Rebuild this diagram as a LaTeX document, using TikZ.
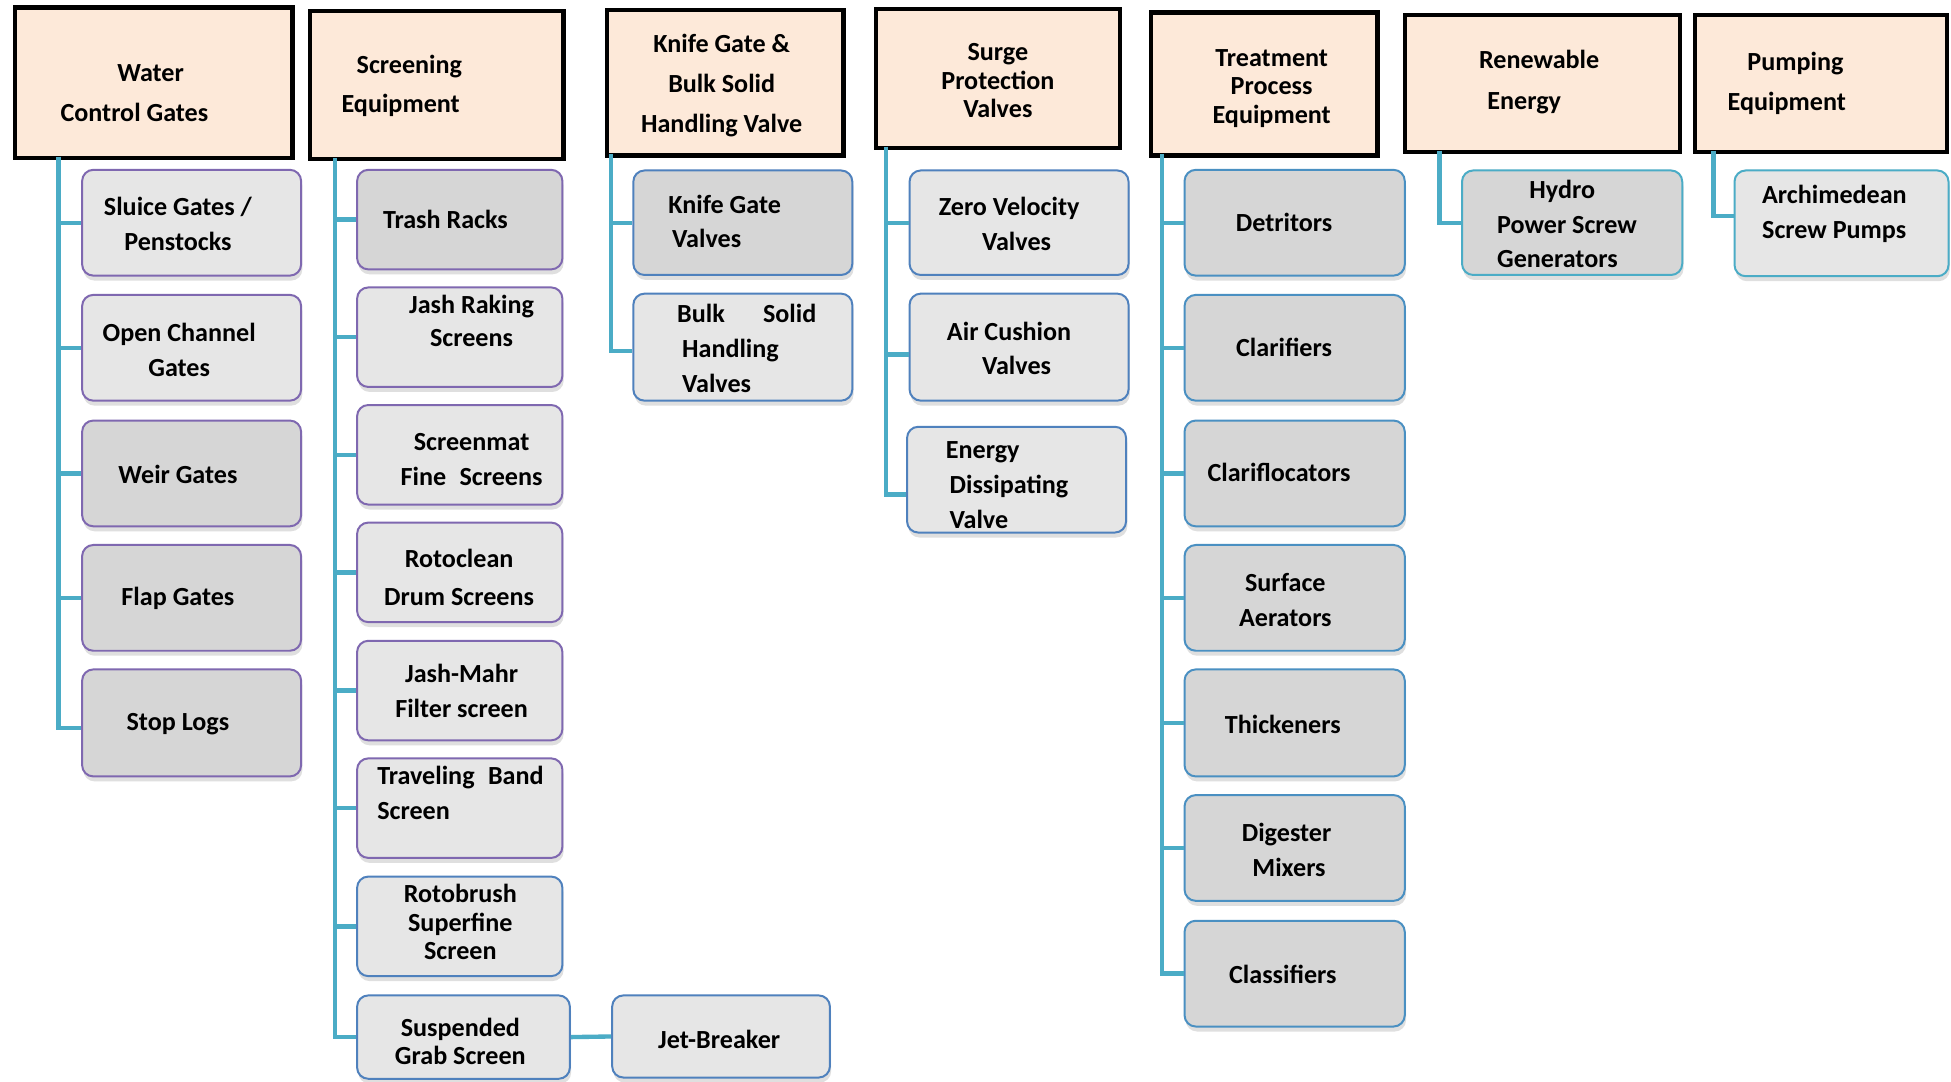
\documentclass[tikz,border=0pt]{standalone}
\usepackage{fontspec}
\setmainfont{Carlito}
\usetikzlibrary{shadows}
\definecolor{peach}{HTML}{FDE9D9}
\definecolor{conncol}{HTML}{4BACC6}
\definecolor{purp}{HTML}{7F68B0}
\definecolor{blu}{HTML}{4F81BD}
\definecolor{blt}{HTML}{4A90C2}
\definecolor{tealb}{HTML}{4BACC6}
\definecolor{lightg}{HTML}{E6E6E6}
\definecolor{darkg}{HTML}{D6D6D6}
\begin{document}
\begin{tikzpicture}[x=1pt,y=-1pt,
  hdr/.style={draw=black, line width=3.5pt, fill=peach, inner sep=0pt},
  kid/.style={draw=#1, line width=1.6pt, rounded corners=9pt, inner sep=0pt,
    drop shadow={shadow xshift=1pt, shadow yshift=-4pt, opacity=0.25}},
  lt/.style={fill=lightg},
  dk/.style={fill=darkg},
  sz/.style 2 args={minimum width=#1pt, minimum height=#2pt},
  txt/.style={font=\fontsize{21}{#1}\selectfont\bfseries, align=center, inner sep=0pt, yshift=-2pt},
  txt/.default=28,
  conn/.style={draw=conncol, line width=3.5pt}]
\useasboundingbox (0,0) rectangle (1568,868.8);
\fill[white] (0,0) rectangle (1568,868.8);

% headers
\node[hdr, sz={223}{121}] (h1) at (123.5,66.5) {};
\node[hdr, sz={204}{119}] (h2) at (351,68.5) {};
\node[hdr, sz={190}{117}] (h3) at (583,66.5) {};
\node[hdr, sz={196}{112}] (h4) at (802,63) {};
\node[hdr, sz={182}{115}] (h5) at (1016,67.5) {};
\node[hdr, sz={221}{110}] (h6) at (1239.5,67) {};
\node[hdr, sz={203}{110}] (h7) at (1463.5,67) {};

\node[txt=32] (h1t) at (108,73) {\hspace*{26pt}Water\\Control Gates};
\node[txt=32] (h2t) at (322,67) {\hspace*{14pt}Screening\\Equipment};
\node[txt=32] (h3t) at (580,67) {Knife Gate \&\\Bulk Solid\\Handling Valve};
\node[txt=23] (h4t) at (802,63) {Surge\\Protection\\Valves};
\node[txt=23] (h5t) at (1022,69) {Treatment\\Process\\Equipment};
\node[txt=33] (h6t) at (1225,64) {\hspace*{24pt}Renewable\\Energy};
\node[txt=32] (h7t) at (1436,65) {\hspace*{14pt}Pumping\\Equipment};

% column 1
\node[kid=purp, lt, sz={176}{85}] (c11) at (154,179) {};
\node[kid=purp, lt, sz={176}{85}] (c12) at (154,279.5) {};
\node[kid=purp, dk, sz={176}{85}] (c13) at (154,380.5) {};
\node[kid=purp, dk, sz={176}{85}] (c14) at (154,480.5) {};
\node[kid=purp, dk, sz={176}{86}] (c15) at (154,581) {};
\node[txt] (c11t) at (143,178) {Sluice Gates /\\Penstocks};
\node[txt] (c12t) at (144,279) {Open Channel\\Gates};
\node[txt] (c13t) at (143,379) {Weir Gates};
\node[txt] (c14t) at (143,479) {Flap Gates};
\node[txt] (c15t) at (143,580) {Stop Logs};

% column 2
\node[kid=purp, dk, sz={165}{80}] (c21) at (369.5,176.5) {};
\node[kid=purp, lt, sz={165}{80}] (c22) at (369.5,271) {};
\node[kid=purp, lt, sz={165}{80}] (c23) at (369.5,365.5) {};
\node[kid=purp, lt, sz={165}{80}] (c24) at (369.5,460) {};
\node[kid=purp, lt, sz={165}{80}] (c25) at (369.5,555) {};
\node[kid=purp, lt, sz={165}{80}] (c26) at (369.5,649.5) {};
\node[kid=blu, lt, sz={165}{80}] (c27) at (369.5,744.5) {};
\node[kid=blu, lt, sz={171}{67}] (c28) at (372.5,833.5) {};
\node[kid=blu, lt, sz={175}{66}] (jet) at (579.5,833) {};
\node[txt] (c21t) at (358,174) {Trash Racks};
\node[txt=27] (c22t) at (379,256) {Jash Raking\\Screens};
\node[txt] (c23t) at (379,367) {Screenmat\\Fine\hspace{6pt} Screens};
\node[txt=30] (c24t) at (369,462) {Rotoclean\\Drum Screens};
\node[txt] (c25t) at (371,553) {Jash-Mahr\\Filter screen};
\node[txt, align=left, anchor=west] (c26t) at (303,635) {Traveling\hspace{6pt} Band\\Screen};
\node[txt=23] (c27t) at (370,739) {Rotobrush\\Superfine\\Screen};
\node[txt=23] (c28t) at (370,835) {Suspended\\Grab Screen};
\node[txt] (jett) at (578,833) {Jet-Breaker};

% column 3
\node[kid=blu, dk, sz={176}{84}] (c31) at (597,179) {};
\node[kid=blu, lt, sz={176}{86}] (c32) at (597,279) {};
\node[txt, align=left, anchor=west] (c31t) at (537,176) {Knife Gate\\\hspace*{3pt}Valves};
\node[txt, align=left, anchor=west] (c32t) at (544,278) {Bulk\hspace{26pt} Solid\\\hspace*{4pt}Handling\\\hspace*{4pt}Valves};

% column 4
\node[kid=blu, lt, sz={176}{84}] (c41) at (819,179) {};
\node[kid=blu, lt, sz={176}{86}] (c42) at (819,279) {};
\node[kid=blu, lt, sz={176}{85}] (c43) at (817,385.5) {};
\node[txt] (c41t) at (811,178) {Zero Velocity\\\hspace*{12pt}Valves};
\node[txt] (c42t) at (811,278) {Air Cushion\\\hspace*{12pt}Valves};
\node[txt, align=left, anchor=west] (c43t) at (760,388) {Energy\\\hspace*{3pt}Dissipating\\\hspace*{3pt}Valve};

% column 5
\node[kid=blt, dk, sz={177}{85}] (c51) at (1040.5,179) {};
\node[kid=blt, dk, sz={177}{85}] (c52) at (1040.5,279.5) {};
\node[kid=blt, dk, sz={177}{85}] (c53) at (1040.5,380.5) {};
\node[kid=blt, dk, sz={177}{85}] (c54) at (1040.5,480.5) {};
\node[kid=blt, dk, sz={177}{86}] (c55) at (1040.5,581) {};
\node[kid=blt, dk, sz={177}{85}] (c56) at (1040.5,681.5) {};
\node[kid=blt, dk, sz={177}{85}] (c57) at (1040.5,782.5) {};
\node[txt] (c51t) at (1032,177) {Detritors};
\node[txt] (c52t) at (1032,277) {Clarifiers};
\node[txt] (c53t) at (1028,378) {Clariflocators};
\node[txt] (c54t) at (1033,480) {Surface\\Aerators};
\node[txt] (c55t) at (1031,580) {Thickeners};
\node[txt] (c56t) at (1034,681) {Digester\\\hspace*{4pt}Mixers};
\node[txt] (c57t) at (1031,781) {Classifiers};

% column 6 and 7
\node[kid=tealb, dk, sz={177}{84}] (c61) at (1263.5,179) {};
\node[kid=tealb, lt, sz={172}{85}] (c71) at (1480,179.5) {};
\node[txt=27.5, align=left, anchor=west] (c61t) at (1203,178) {\hspace*{26pt}Hydro\\Power Screw\\Generators};
\node[txt, align=left, anchor=west] (c71t) at (1416,170) {Archimedean\\Screw Pumps};

% connectors
\coordinate (v1) at (47,126);
\coordinate (v2) at (269,127);
\coordinate (v3) at (491,124);
\coordinate (v4) at (712,118);
\coordinate (v5) at (934,124);
\coordinate (v6) at (1157,121);
\coordinate (v7) at (1377,121);
\foreach \c in {c11,c12,c13,c14} \draw[conn] (v1) |- (\c.west);
\draw[conn] (v1) |- ([yshift=-4pt]c15.west);
\foreach \c in {c21,c22,c23,c24,c25,c26,c27,c28} \draw[conn] (v2) |- (\c.west);
\draw[conn] (c28.east) -- (jet.west);
\draw[conn] (v3) |- (c31.west);
\draw[conn] (v3) |- ([yshift=-3pt]c32.west);
\draw[conn] (v4) |- (c41.west);
\draw[conn] (v4) |- ([yshift=-6pt]c42.west);
\draw[conn] (v4) |- ([yshift=-12pt]c43.west);
\foreach \c in {c51,c52,c53,c54,c55,c56,c57} \draw[conn] (v5) |- (\c.west);
\draw[conn] (v6) |- (c61.west);
\draw[conn] (v7) |- ([yshift=6pt]c71.west);
\end{tikzpicture}
\end{document}
